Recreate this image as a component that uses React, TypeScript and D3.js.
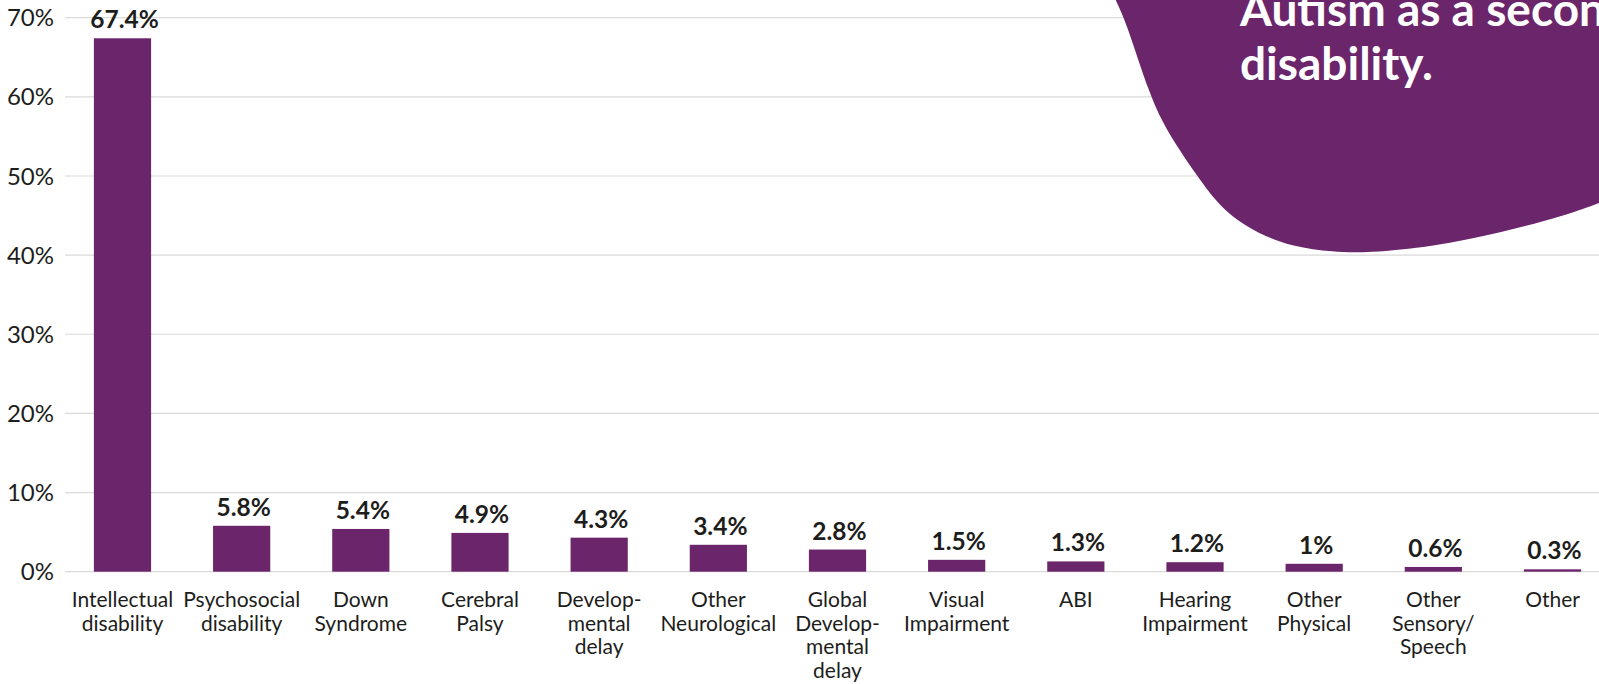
import React from "react";
import * as d3 from "d3";

const categories: string[][] = [
  ["Intellectual", "disability"],
  ["Psychosocial", "disability"],
  ["Down", "Syndrome"],
  ["Cerebral", "Palsy"],
  ["Develop-", "mental", "delay"],
  ["Other", "Neurological"],
  ["Global", "Develop-", "mental", "delay"],
  ["Visual", "Impairment"],
  ["ABI"],
  ["Hearing", "Impairment"],
  ["Other", "Physical"],
  ["Other", "Sensory/", "Speech"],
  ["Other"],
];
const values: number[] = [67.4, 5.8, 5.4, 4.9, 4.3, 3.4, 2.8, 1.5, 1.3, 1.2, 1, 0.6, 0.3];
const yTicks: number[] = [0, 10, 20, 30, 40, 50, 60, 70];
const calloutLines: string[] = ["Autism as a secondary", "disability."];

const W = 1599;
const H = 684;
const PURPLE = "#6b256b";
const TEXT = "#1d1d1b";
const GRID = "#dadada";
const FONT = "Lato, 'Open Sans', sans-serif";

export default function App() {
  const keys = categories.map((c) => c.join(" "));
  const x = d3.scaleBand<string>().domain(keys).range([62.9, 1612.1]).paddingInner(0.52).paddingOuter(0.26);
  const y = d3.scaleLinear().domain([0, 70]).range([571.7, 17.7]);

  // decorative callout blob outline
  const blobPts: [number, number][] = [
    [1112, -12], [1115, 0], [1125, 18], [1150, 97], [1168, 133], [1197, 176], [1215, 200],
    [1232, 217], [1257, 233], [1293, 247], [1333, 252], [1367, 253], [1433, 246.7],
    [1500, 233], [1567, 215], [1599, 203], [1615, 197],
  ];
  const blobLine = d3.line().curve(d3.curveBasis);
  const blobPath = blobLine(blobPts) + " L1615,-12 Z";

  return (
    <svg
      width={W}
      height={H}
      viewBox={`0 0 ${W} ${H}`}
      style={{ position: "absolute", left: 0, top: 0, display: "block", background: "#fff" }}
      fontFamily={FONT}
    >
      <rect x={0} y={0} width={W} height={H} fill="#fff" />
      {/* gridlines */}
      {yTicks.map((t) => (
        <line key={t} x1={65} x2={W} y1={y(t)} y2={y(t)} stroke={GRID} strokeWidth={1.2} />
      ))}
      {/* y tick labels */}
      {yTicks.map((t) => (
        <text key={t} x={54} y={y(t)} dy="0.36em" textAnchor="end" fontSize={24} fill={TEXT}>
          {`${t}%`}
        </text>
      ))}
      {/* bars */}
      {values.map((v, i) => (
        <rect
          key={keys[i]}
          x={x(keys[i])}
          y={y(v)}
          width={x.bandwidth()}
          height={y(0) - y(v)}
          fill={PURPLE}
        />
      ))}
      {/* value labels */}
      {values.map((v, i) => (
        <text
          key={keys[i]}
          x={(x(keys[i]) as number) + x.bandwidth() / 2 + 2}
          y={y(v) - 10}
          textAnchor="middle"
          fontSize={24.5}
          fontWeight={700}
          fill={TEXT}
        >
          {`${v}%`}
        </text>
      ))}
      {/* category labels */}
      {categories.map((lines, i) => (
        <text
          key={keys[i]}
          x={(x(keys[i]) as number) + x.bandwidth() / 2}
          y={607}
          textAnchor="middle"
          fontSize={21}
          fill={TEXT}
        >
          {lines.map((l, j) => (
            <tspan key={j} x={(x(keys[i]) as number) + x.bandwidth() / 2} dy={j === 0 ? 0 : 23.7}>
              {l}
            </tspan>
          ))}
        </text>
      ))}
      {/* callout */}
      <path d={blobPath} fill={PURPLE} />
      <text x={1240} y={26} fontSize={46} fontWeight={700} fill="#fff">
        {calloutLines.map((l, j) => (
          <tspan key={j} x={1240} dy={j === 0 ? 0 : 54}>
            {l}
          </tspan>
        ))}
      </text>
    </svg>
  );
}
